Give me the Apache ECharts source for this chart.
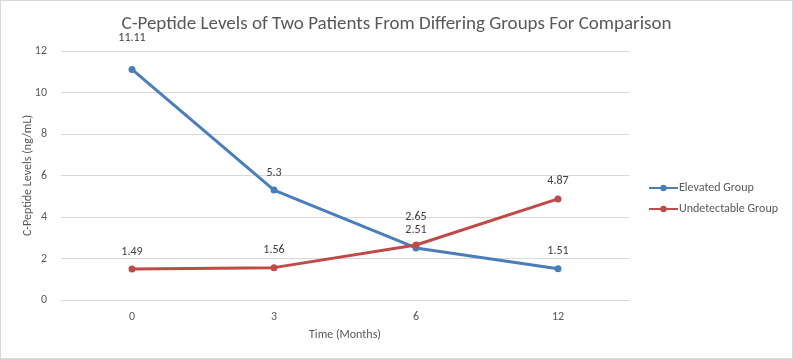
<!DOCTYPE html>
<html>
<head>
<meta charset="utf-8">
<script src="https://cdn.jsdelivr.net/npm/echarts@6/dist/echarts.min.js"></script>
<style>
html,body{margin:0;padding:0;background:#fff;}
#chart{width:793px;height:359px;box-sizing:border-box;border:1px solid #d9d9d9;}
</style>
</head>
<body>
<div id="chart"></div>
<script>
const categories = ['0', '3', '6', '12'];
const elevated = [11.11, 5.3, 2.51, 1.51];
const undetectable = [1.49, 1.56, 2.65, 4.87];
const yTicks = [0, 2, 4, 6, 8, 10, 12];

const FONT = "Carlito, 'Liberation Sans Narrow', 'Open Sans', sans-serif";
const TXT = '#595959';

// extra label lifts for a couple of points (Excel placed them higher)
const elevatedLift = [14, 0, 0, 0];
const undetectLift = [0, 0, 11, 0];

function mk(vals, lifts) {
  return vals.map((v, i) => ({
    value: v,
    label: { offset: [0, -lifts[i]] }
  }));
}

const chart = echarts.init(document.getElementById('chart'));
chart.setOption({
  animation: false,
  textStyle: { fontFamily: FONT },
  title: {
    text: 'C-Peptide Levels of Two Patients From Differing Groups For Comparison',
    left: 'center',
    top: 9,
    textStyle: { fontFamily: FONT, fontSize: 19, fontWeight: 'normal', color: TXT }
  },
  legend: {
    orient: 'vertical',
    left: 642,
    top: 176,
    itemGap: 9,
    itemWidth: 29,
    itemHeight: 8,
    textStyle: { fontFamily: FONT, fontSize: 12, color: TXT, padding: [0, 0, 0, -4] },
    data: ['Elevated Group', 'Undetectable Group']
  },
  grid: { left: 60, right: 163, top: 50, bottom: 58 },
  xAxis: {
    type: 'category',
    data: categories,
    boundaryGap: true,
    name: 'Time (Months)',
    nameLocation: 'middle',
    nameGap: 29,
    nameMoveOverlap: false,
    nameTextStyle: { fontFamily: FONT, fontSize: 12, color: TXT },
    axisLine: { show: true, lineStyle: { color: '#d9d9d9' } },
    axisTick: { show: false },
    axisLabel: { fontFamily: FONT, fontSize: 12, color: TXT, margin: 11 }
  },
  yAxis: {
    type: 'value',
    min: yTicks[0],
    max: yTicks[yTicks.length - 1],
    interval: 2,
    name: 'C-Peptide Levels (ng/mL)',
    nameLocation: 'middle',
    nameGap: 27,
    nameMoveOverlap: false,
    nameTextStyle: { fontFamily: FONT, fontSize: 12, color: TXT },
    axisLine: { show: false },
    axisTick: { show: false },
    splitLine: { lineStyle: { color: '#d9d9d9' } },
    axisLabel: { fontFamily: FONT, fontSize: 12, color: TXT, margin: 14 }
  },
  series: [
    {
      name: 'Elevated Group',
      type: 'line',
      data: mk(elevated, elevatedLift),
      symbol: 'circle',
      symbolSize: 7,
      lineStyle: { width: 3, color: '#4a7ebb' },
      itemStyle: { color: '#4a7ebb' },
      label: { show: true, position: 'top', distance: 8, fontFamily: FONT, fontSize: 12, color: '#404040' }
    },
    {
      name: 'Undetectable Group',
      type: 'line',
      data: mk(undetectable, undetectLift),
      symbol: 'circle',
      symbolSize: 7,
      lineStyle: { width: 3, color: '#be4b48' },
      itemStyle: { color: '#be4b48' },
      label: { show: true, position: 'top', distance: 8, fontFamily: FONT, fontSize: 12, color: '#404040' }
    }
  ]
});
</script>
</body>
</html>
